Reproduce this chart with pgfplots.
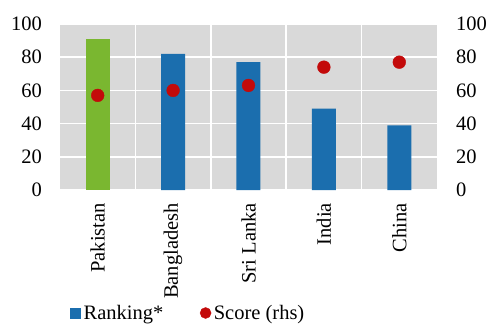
\documentclass[border=0pt]{standalone}
\usepackage{fontspec}
\setmainfont{Liberation Serif}
\usepackage{pgfplots}
\pgfplotsset{compat=1.18}

\definecolor{rankblue}{RGB}{27,110,174}
\definecolor{pakgreen}{RGB}{122,183,48}
\definecolor{scorered}{RGB}{195,10,10}
\definecolor{panel}{RGB}{217,217,217}

\newcommand{\lblfont}{\fontsize{20.5bp}{24bp}\selectfont}

\pgfplotsset{
  commonframe/.style={
    scale only axis, width=377bp, height=166bp,
    xmin=-0.5, xmax=4.5, ymin=0, ymax=100,
    ytick={0,20,...,100},
    major tick length=0pt, minor tick length=0pt,
    axis line style={draw=none},
    tick label style={font=\lblfont},
    /pgf/number format/assume math mode=true,
  },
}

\begin{document}
\begin{tikzpicture}
\path[use as bounding box] (-60bp,-136bp) rectangle (427bp,190bp);

% main panel: ranking bars and scores
\begin{axis}[
  commonframe,
  axis background/.style={fill=panel},
  ymajorgrids, xminorgrids,
  major grid style={white, line width=1.5bp},
  minor grid style={white, line width=1.5bp},
  xtick={0,1,2,3,4},
  minor xtick={0.5,1.5,2.5,3.5},
  xticklabels={Pakistan,Bangladesh,Sri Lanka,India,China},
  xticklabel style={rotate=90, anchor=east, inner xsep=13bp, inner ysep=0pt},
  yticklabel style={anchor=east, inner sep=0pt, xshift=-18bp},
  legend columns=2,
  legend style={draw=none, fill=none, font=\lblfont,
    at={(rel axis cs:0,0)}, anchor=west, xshift=7bp, yshift=-123bp,
    /tikz/every even column/.append style={column sep=34bp},
    nodes={inner sep=2.5bp}},
  legend cell align=left,
]
\addplot[ybar, bar shift=0pt, bar width=24bp, fill=pakgreen, draw=none, forget plot]
  coordinates {(0,91)};
\addplot[ybar, bar shift=0pt, bar width=24bp, fill=rankblue, draw=none,
  legend image code/.code={\fill[rankblue] (0bp,-5.5bp) rectangle (11bp,5.5bp);}]
  coordinates {(1,82) (2,77) (3,49) (4,39)};
\addlegendentry{Ranking*}
\addplot[only marks, mark=*, mark size=6.4bp, color=scorered,
  legend image code/.code={\fill[scorered] (5.5bp,0bp) circle (5.5bp);}]
  coordinates {(0,57) (1,60) (2,63) (3,74) (4,77)};
\addlegendentry{Score (rhs)}
\end{axis}

% right-hand scale for the scores
\begin{axis}[
  commonframe,
  axis y line*=right,
  hide x axis,
  yticklabel style={anchor=west, inner sep=0pt, xshift=19bp},
]
\addplot[draw=none, forget plot] coordinates {(0,0)};
\end{axis}
\end{tikzpicture}
\end{document}
